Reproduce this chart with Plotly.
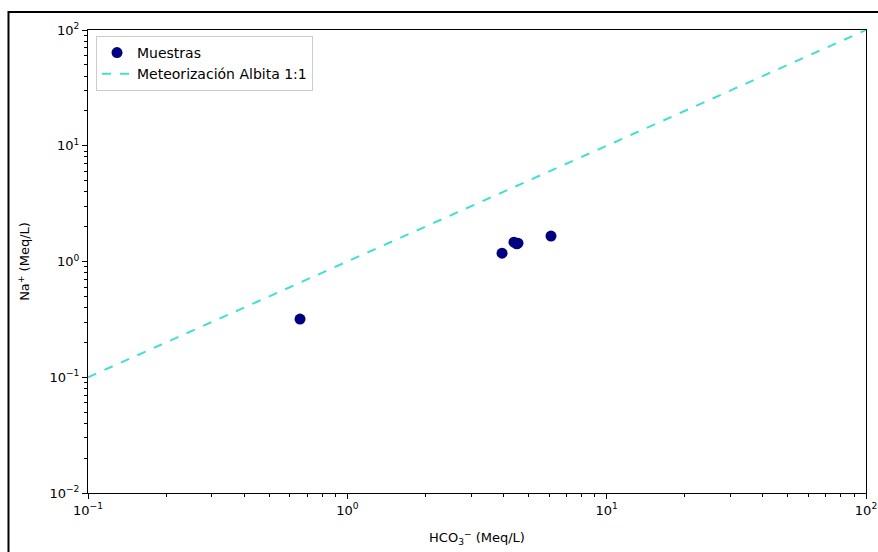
import plotly.graph_objects as go

# Data
hco3 = [0.657, 3.95, 4.39, 4.55, 4.50, 6.10]
na = [0.318, 1.18, 1.47, 1.44, 1.42, 1.66]
line_x = [0.1, 100]
line_y = [0.1, 100]

x_tickvals = [0.1, 1, 10, 100]
x_ticktext = ["10<sup>−1</sup>", "10<sup>0</sup>", "10<sup>1</sup>", "10<sup>2</sup>"]
y_tickvals = [0.01, 0.1, 1, 10, 100]
y_ticktext = ["10<sup>−2</sup>", "10<sup>−1</sup>", "10<sup>0</sup>", "10<sup>1</sup>", "10<sup>2</sup>"]

def minor_vals(lo, hi):
    vals = []
    d = lo
    while d < hi:
        for m in range(2, 10):
            vals.append(m * d)
        d *= 10
    return vals

font = dict(family="DejaVu Sans", size=13, color="black")
title_font = dict(family="DejaVu Sans", size=13, color="black")

fig = go.Figure()
fig.add_trace(go.Scatter(x=hco3, y=na, mode="markers", name="Muestras",
                         marker=dict(color="#000080", size=11)))
fig.add_trace(go.Scatter(x=line_x, y=line_y, mode="lines", name="Meteorización Albita 1:1",
                         line=dict(color="#40E0D0", dash="dash", width=2)))

axis_common = dict(type="log", showline=True, linecolor="black", linewidth=1, mirror=True,
                   ticks="outside", ticklen=5, tickcolor="black", showgrid=False, zeroline=False,
                   tickfont=font, automargin=False)

fig.update_xaxes(range=[-1, 2], tickvals=x_tickvals, ticktext=x_ticktext,
                 title=dict(text="HCO<sub>3</sub><sup>−</sup> (Meq/L)", font=title_font, standoff=16),
                 minor=dict(tickvals=minor_vals(0.1, 100), ticks="outside", ticklen=3, tickcolor="black"),
                 **axis_common)
fig.update_yaxes(range=[-2, 2], tickvals=y_tickvals, ticktext=y_ticktext,
                 title=dict(text="Na<sup>+</sup> (Meq/L)", font=title_font, standoff=16),
                 minor=dict(tickvals=minor_vals(0.01, 100), ticks="outside", ticklen=3, tickcolor="black"),
                 **axis_common)

fig.add_shape(type="rect", xref="paper", yref="paper",
              x0=-0.1022, x1=1.03, y0=-0.15, y1=1.039,
              line=dict(color="black", width=2), fillcolor="rgba(0,0,0,0)", layer="below")

fig.update_layout(
    width=878, height=552,
    margin=dict(l=88, r=12, t=30, b=59),
    paper_bgcolor="white", plot_bgcolor="white",
    font=font,
    showlegend=True,
    legend=dict(x=0.0103, y=0.987, xanchor="left", yanchor="top",
                bgcolor="white", bordercolor="#cccccc", borderwidth=1,
                font=dict(family="DejaVu Sans", size=14, color="black")),
)

fig.write_html("out.html",
               config={"displayModeBar": False},
               post_script="document.body.style.margin='0';document.body.style.overflow='hidden';")
